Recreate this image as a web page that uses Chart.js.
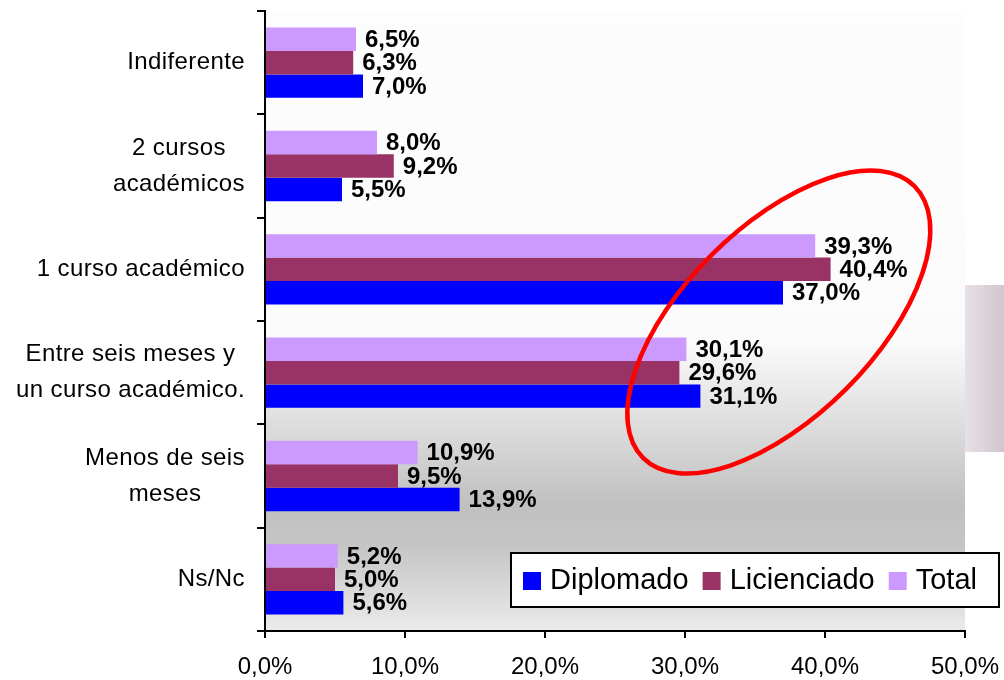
<!DOCTYPE html>
<html>
<head>
<meta charset="utf-8">
<script src="https://cdn.jsdelivr.net/npm/chart.js@4.4.0/dist/chart.umd.min.js"></script>
<style>
  html, body { margin: 0; padding: 0; background: #fff; }
  #wrap { width: 1004px; height: 680px; position: relative; }
</style>
</head>
<body>
<div id="wrap"><canvas id="myChart"></canvas></div>
<script>
var categories = [
  ['Indiferente'],
  ['2 cursos', 'académicos'],
  ['1 curso académico'],
  ['Entre seis meses y', 'un curso académico.'],
  ['Menos de seis', 'meses'],
  ['Ns/Nc']
];
var totalValues = [6.5, 8.0, 39.3, 30.1, 10.9, 5.2];
var licenciadoValues = [6.3, 9.2, 40.4, 29.6, 9.5, 5.0];
var diplomadoValues = [7.0, 5.5, 37.0, 31.1, 13.9, 5.6];
var xTicks = [0, 10, 20, 30, 40, 50];

var FONT = '"Liberation Sans", Arial, sans-serif';

function pct(v) {
  return v.toFixed(1).replace('.', ',') + '%';
}

// plot background + the grey box at the right edge
var backdrop = {
  id: 'backdrop',
  beforeDraw: function(chart) {
    var c = chart.ctx, a = chart.chartArea;
    var g = c.createLinearGradient(0, a.top, 0, a.bottom);
    var h = a.bottom - a.top;
    g.addColorStop(0, '#fdfdfd');
    g.addColorStop((340 - a.top) / h, '#fbfbfb');
    g.addColorStop((425 - a.top) / h, '#dddddd');
    g.addColorStop((505 - a.top) / h, '#c0c0c0');
    g.addColorStop((545 - a.top) / h, '#c5c5c5');
    g.addColorStop(1, '#ebebeb');
    c.save();
    c.fillStyle = g;
    c.fillRect(a.left, a.top, a.right - a.left, h);
    var g2 = c.createLinearGradient(a.right, 0, chart.width, 0);
    g2.addColorStop(0, '#e7e0e5');
    g2.addColorStop(1, '#d3c5cf');
    c.fillStyle = g2;
    c.fillRect(a.right, 285, chart.width - a.right, 167);
    c.restore();
  }
};

// category labels: block right aligned, lines centred in the block
var catLabels = {
  id: 'catLabels',
  afterDraw: function(chart) {
    var c = chart.ctx, ys = chart.scales.y, a = chart.chartArea;
    c.save();
    c.font = '24px ' + FONT;
    c.letterSpacing = '0.4px';
    c.fillStyle = '#000';
    c.textAlign = 'center';
    c.textBaseline = 'middle';
    var right = a.left - 20, lh = 36;
    categories.forEach(function(lines, i) {
      var y = ys.getPixelForValue(i);
      var w = 0;
      lines.forEach(function(l) { w = Math.max(w, c.measureText(l).width); });
      lines.forEach(function(l, j) {
        c.fillText(l, right - w / 2, y + (j - (lines.length - 1) / 2) * lh);
      });
    });
    c.restore();
  }
};

var valueLabels = {
  id: 'valueLabels',
  afterDatasetsDraw: function(chart) {
    var c = chart.ctx;
    c.save();
    c.font = 'bold 24px ' + FONT;
    c.fillStyle = '#000';
    c.textAlign = 'left';
    c.textBaseline = 'middle';
    chart.data.datasets.forEach(function(ds, di) {
      chart.getDatasetMeta(di).data.forEach(function(bar, i) {
        c.fillText(pct(ds.data[i]), bar.x + 9, bar.y + 1);
      });
    });
    // red ellipse around the two middle groups
    var xs = chart.scales.x, ys = chart.scales.y;
    c.beginPath();
    c.ellipse(xs.getPixelForValue(36.7), ys.getPixelForValue(2.51), 192, 95, -Math.PI / 4, 0, Math.PI * 2);
    c.strokeStyle = '#ff0000';
    c.lineWidth = 4.5;
    c.stroke();
    c.restore();
  }
};

var boxLegend = {
  id: 'boxLegend',
  afterDraw: function(chart) {
    var c = chart.ctx;
    var bx = 511, by = 553, bw = 488, bh = 54;
    c.save();
    c.fillStyle = '#fff';
    c.fillRect(bx, by, bw, bh);
    c.strokeStyle = '#000';
    c.lineWidth = 2;
    c.strokeRect(bx, by, bw, bh);
    c.font = '29px ' + FONT;
    c.textBaseline = 'middle';
    c.textAlign = 'left';
    var x = 523, cy = by + bh / 2 + 1;
    chart.data.datasets.slice().reverse().forEach(function(ds) {
      c.fillStyle = ds.backgroundColor;
      c.fillRect(x, cy - 9, 18, 18);
      c.fillStyle = '#000';
      c.fillText(ds.label, x + 27, cy);
      x += 27 + c.measureText(ds.label).width + 14;
    });
    c.restore();
  }
};

var ctx = document.getElementById('myChart').getContext('2d');
var chart = new Chart(ctx, {
  type: 'bar',
  data: {
    labels: categories,
    datasets: [
      { label: 'Total', data: totalValues, backgroundColor: '#cc99ff' },
      { label: 'Licienciado', data: licenciadoValues, backgroundColor: '#993366' },
      { label: 'Diplomado', data: diplomadoValues, backgroundColor: '#0000ff' }
    ]
  },
  options: {
    indexAxis: 'y',
    responsive: true,
    maintainAspectRatio: false,
    animation: false,
    categoryPercentage: 0.68,
    barPercentage: 1.0,
    layout: { padding: { top: 11, right: 39, bottom: 0, left: 0 } },
    plugins: {
      legend: { display: false },
      tooltip: { enabled: false }
    },
    scales: {
      x: {
        min: 0,
        max: 50,
        afterBuildTicks: function(scale) {
          scale.ticks = xTicks.map(function(v) { return { value: v }; });
        },
        afterFit: function(scale) {
          scale.height = 49;
          scale.paddingLeft = 0;
          scale.paddingRight = 0;
        },
        ticks: {
          callback: function(v) { return pct(v); },
          font: { family: FONT, size: 24 },
          color: '#000',
          padding: 15,
          maxRotation: 0
        },
        grid: { drawOnChartArea: false, drawTicks: true, tickLength: 7, color: '#000', lineWidth: 2 },
        border: { display: true, color: '#000', width: 2 }
      },
      y: {
        afterFit: function(scale) {
          scale.width = 265;
          scale.paddingTop = 0;
          scale.paddingBottom = 0;
        },
        ticks: { color: 'rgba(0,0,0,0)', font: { family: FONT, size: 24 } },
        grid: { drawOnChartArea: false, drawTicks: true, tickLength: 8, color: '#000', lineWidth: 2, offset: true },
        border: { display: true, color: '#000', width: 2 }
      }
    }
  },
  plugins: [backdrop, catLabels, valueLabels, boxLegend]
});
</script>
</body>
</html>
